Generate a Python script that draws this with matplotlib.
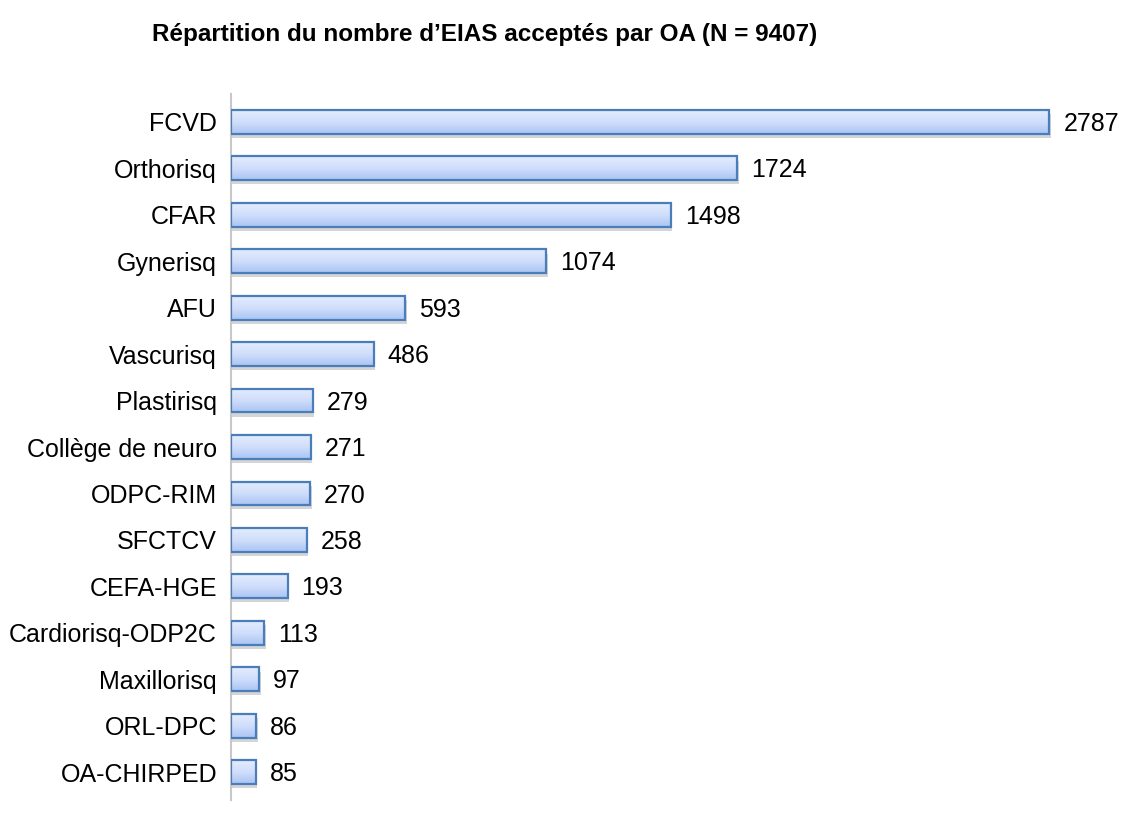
import numpy as np
import matplotlib
matplotlib.use("Agg")
import matplotlib.pyplot as plt
import matplotlib.patheffects as pe
from matplotlib.colors import LinearSegmentedColormap

categories = ["FCVD", "Orthorisq", "CFAR", "Gynerisq", "AFU", "Vascurisq", "Plastirisq",
              "Collège de neuro", "ODPC-RIM", "SFCTCV", "CEFA-HGE", "Cardiorisq-ODP2C",
              "Maxillorisq", "ORL-DPC", "OA-CHIRPED"]
values = [2787, 1724, 1498, 1074, 593, 486, 279, 271, 270, 258, 193, 113, 97, 86, 85]
title = "Répartition du nombre d’EIAS acceptés par OA (N = 9407)"

plt.rcParams['font.family'] = ['Liberation Sans', 'DejaVu Sans']

W, H = 1121, 822
fig = plt.figure(figsize=(W / 100, H / 100), dpi=100)
left, right, top, bottom = 231, 1112, 94, 800
ax = fig.add_axes([left / W, 1 - bottom / H, (right - left) / W, (bottom - top) / H])

y = np.arange(len(categories))
bars = ax.barh(y, values, height=0.51, color='none', edgecolor='#4a7ebb', linewidth=1.6, zorder=3)
ax.set_xlim(0, 3000)
ax.set_ylim(len(categories) - 0.4, -0.6)

grad = np.linspace(0, 1, 64).reshape(-1, 1)
cmap = LinearSegmentedColormap.from_list('g', ['#e3ecfd', '#d0defb', '#a9c4f4'])
for b in bars:
    x0, y0 = b.get_x(), b.get_y()
    w, h = b.get_width(), b.get_height()
    shadow = plt.Rectangle((x0, y0), w, h, facecolor='white', edgecolor='none', zorder=1)
    ax.add_patch(shadow)
    shadow.set_path_effects([pe.SimplePatchShadow(offset=(1, -3), shadow_rgbFace='#777777', alpha=0.3)])
    im = ax.imshow(grad, extent=(x0, x0 + w, y0 + h, y0), cmap=cmap, aspect='auto', zorder=2,
                   interpolation='bicubic')
    im.set_clip_path(b)
    ax.annotate(f"{int(w)}", xy=(x0 + w, y0 + h / 2), xytext=(10, -1.5), textcoords='offset points',
                ha='left', va='center', fontsize=18, color='black')

ax.set_ylim(len(categories) - 0.4, -0.6)
ax.set_xlim(0, 3000)
ax.set_yticks(y)
ax.set_yticklabels(categories, fontsize=18)
ax.tick_params(axis='y', length=0, pad=10)
ax.set_xticks([])
for s in ['top', 'right', 'bottom']:
    ax.spines[s].set_visible(False)
ax.spines['left'].set_color('#c8c8c8')
ax.spines['left'].set_linewidth(1.5)

fig.text(485 / W, 1 - 34 / H, title, ha='center', va='center', fontsize=17.5, fontweight='bold')

fig.savefig("out.png", dpi=100)
